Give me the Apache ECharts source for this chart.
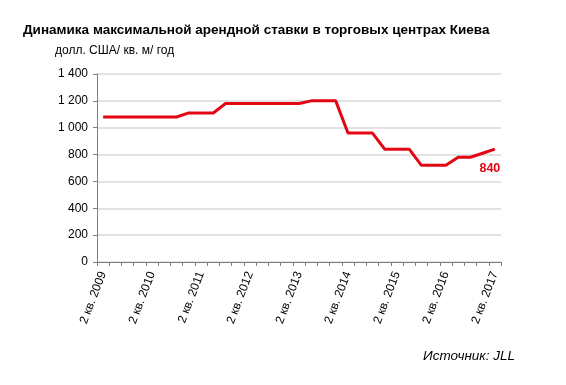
<!DOCTYPE html>
<html><head><meta charset="utf-8">
<script src="https://cdn.jsdelivr.net/npm/echarts@6/dist/echarts.min.js"></script>
<style>html,body{margin:0;padding:0;background:#fff}#c{width:566px;height:385px}</style>
</head><body><div id="c"></div>
<script>
const categories = [];
// quarters from 2 кв. 2009 to 2 кв. 2017
const quarterLabels = ['2009-2','2009-3','2009-4','2010-1','2010-2','2010-3','2010-4','2011-1','2011-2','2011-3','2011-4','2012-1','2012-2','2012-3','2012-4','2013-1','2013-2','2013-3','2013-4','2014-1','2014-2','2014-3','2014-4','2015-1','2015-2','2015-3','2015-4','2016-1','2016-2','2016-3','2016-4','2017-1','2017-2'];
quarterLabels.forEach(q => { const [y, k] = q.split('-'); categories.push(k + ' кв. ' + y); });
const rentValues = [1080,1080,1080,1080,1080,1080,1080,1110,1110,1110,1180,1180,1180,1180,1180,1180,1180,1200,1200,1200,960,960,960,840,840,840,720,720,720,780,780,810,840];
const yTicks = [0,200,400,600,800,1000,1200,1400];

const chart = echarts.init(document.getElementById('c'));
const FONT = 'Liberation Sans, Arial, sans-serif';
chart.setOption({
  animation: false,
  textStyle: {fontFamily: FONT},
  title: [
    {text: 'Динамика максимальной арендной ставки в торговых центрах Киева', left: 18, top: 18,
     textStyle: {fontSize: 13.5, fontWeight: 'bold', color: '#000', fontFamily: FONT}},
    {text: 'долл. США/ кв. м/ год', left: 50, top: 40,
     textStyle: {fontSize: 12, fontWeight: 'normal', color: '#000', fontFamily: FONT}},
    {text: 'Источник: JLL', right: 46, top: 344,
     textStyle: {fontSize: 13.5, fontWeight: 'normal', fontStyle: 'italic', color: '#000', fontFamily: FONT}}
  ],
  grid: {left: 97, right: 65, top: 74, bottom: 123, containLabel: false},
  xAxis: {
    type: 'category', data: categories, boundaryGap: true,
    axisLine: {lineStyle: {color: '#808080', width: 1}},
    axisTick: {show: true, interval: 0, length: 4, lineStyle: {color: '#808080'}},
    axisLabel: {
      interval: 3, rotate: 69, fontSize: 12, color: '#000', fontFamily: FONT, margin: 10,
      formatter: v => v.startsWith('2 кв.') ? v : ''
    }
  },
  yAxis: {
    type: 'value', min: 0, max: 1400, interval: 200,
    axisLine: {show: true, lineStyle: {color: '#808080'}},
    axisTick: {show: true, length: 4, lineStyle: {color: '#808080'}},
    splitLine: {lineStyle: {color: '#d9d9d9', width: 1.5}},
    axisLabel: {fontSize: 12, color: '#000', fontFamily: FONT, margin: 9,
      formatter: v => yTicks.includes(v) ? String(v).replace(/\B(?=(\d{3})+(?!\d))/g, ' ') : ''}
  },
  series: [{
    type: 'line', data: rentValues, symbol: 'none',
    lineStyle: {color: '#e30613', width: 3}, itemStyle: {color: '#e30613'},
    markPoint: {
      symbol: 'circle', symbolSize: 0,
      data: [{coord: [rentValues.length - 1, rentValues[rentValues.length - 1]], value: rentValues[rentValues.length - 1]}],
      label: {show: true, position: 'bottom', distance: 13, offset: [-5, 0], color: '#e30613', fontWeight: 'bold', fontSize: 12.5, fontFamily: FONT,
        formatter: p => p.value}
    }
  }]
});
</script></body></html>
